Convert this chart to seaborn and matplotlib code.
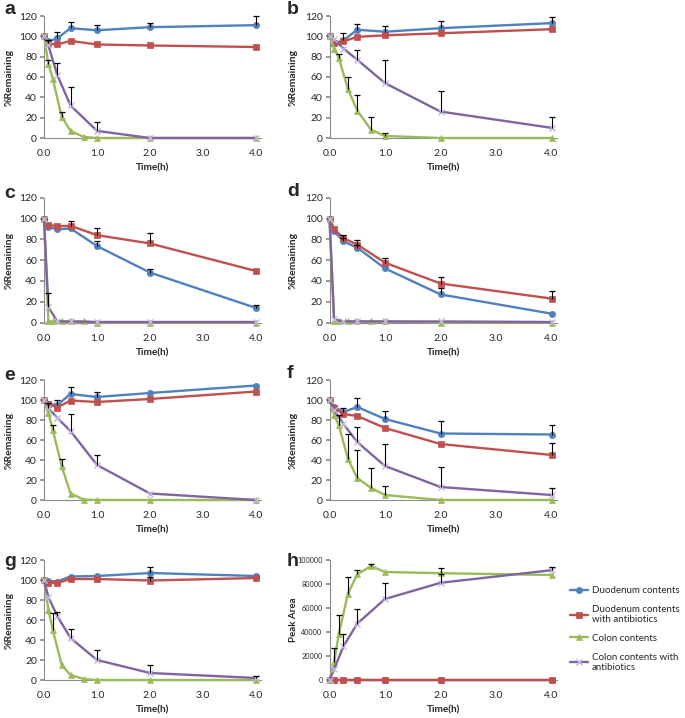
import numpy as np
import pandas as pd
import matplotlib
matplotlib.use("Agg")
import matplotlib.pyplot as plt
from matplotlib.lines import Line2D
import seaborn as sns

# ---------------- data ----------------
series_names = ["Duodenum contents", "Duodenum contents\nwith antibiotics",
                "Colon contents", "Colon contents with\nantibiotics"]
time_main = [0, 0.083, 0.25, 0.5, 1, 2, 4]
time_colon = [0, 0.083, 0.167, 0.333, 0.5, 0.75, 1, 2, 4]
x_ticks = [0.0, 1.0, 2.0, 3.0, 4.0]
x_tick_labels = ["0.0", "1.0", "2.0", "3.0", "4.0"]
y_ticks_pct = [0, 20, 40, 60, 80, 100, 120]
y_ticks_area = [0, 20000, 40000, 60000, 80000, 100000]

a_duo = [100, 95, 98, 108, 106, 109, 111]
a_duo_err = [0, 0, 6, 6, 5, 4, 9]
a_duo_ab = [100, 93, 92, 95.5, 92, 91, 89.5]
a_duo_ab_err = [0, 3, 0, 0, 0, 0, 0]
a_col = [100, 73, 58, 21, 7, 1, 0, 0, 0]
a_col_err = [0, 4, 0, 5, 0, 0, 0, 0, 0]
a_col_ab = [100, 91, 62, 32, 7, 0, 0]
a_col_ab_err = [0, 0, 12, 18, 9, 0, 0]

b_duo = [100, 93, 96, 106.5, 104.5, 108, 113]
b_duo_err = [0, 0, 7, 6, 5.5, 7, 6]
b_duo_ab = [100, 93, 95, 99.5, 101, 103, 107]
b_duo_ab_err = [0, 0, 0, 0, 0, 0, 0]
b_col = [100, 88, 79, 48, 27, 8, 2, 0, 0]
b_col_err = [0, 0, 4, 12, 15, 13, 3, 0, 0]
b_col_ab = [100, 97, 88, 77, 54, 26, 10]
b_col_ab_err = [0, 0, 0, 9.5, 23, 20, 11]

c_duo = [100, 92, 89.5, 90.5, 73.5, 48, 14]
c_duo_err = [0, 0, 0, 0, 5, 3, 3]
c_duo_ab = [100, 94, 92.5, 93, 84, 76, 49.5]
c_duo_ab_err = [0, 0, 0, 5, 7, 10, 0]
c_col = [100, 1, 1, 1, 1, 1, 0, 0, 0]
c_col_err = [0, 0, 0, 0, 0, 0, 0, 0, 0]
c_col_ab = [100, 15, 1, 1, 0.5, 0.5, 0.5]
c_col_ab_err = [0, 13, 0, 0, 0, 0, 0]

d_duo = [100, 88, 78, 72, 52, 27, 8.5]
d_duo_err = [0, 0, 3, 3, 0, 6, 0]
d_duo_ab = [100, 90, 81, 75, 57.5, 37.5, 23]
d_duo_ab_err = [0, 0, 3, 4, 5, 6, 7]
d_col = [100, 1, 1, 1, 1, 1, 1, 0, 0]
d_col_err = [0, 0, 0, 0, 0, 0, 0, 0, 0]
d_col_ab = [100, 3, 1, 1, 1, 1, 0.5]
d_col_ab_err = [0, 0, 0, 0, 0, 0, 0]

e_duo = [100, 96, 95, 106, 103, 107, 114.5]
e_duo_err = [0, 0, 5, 7, 5, 0, 0]
e_duo_ab = [100, 96, 92.5, 99.5, 98, 101, 108.5]
e_duo_ab_err = [0, 0, 0, 0, 0, 0, 0]
e_col = [100, 87, 70, 34, 6.5, 0.5, 0, 0, 0]
e_col_err = [0, 0, 5, 7, 0, 0, 0, 0, 0]
e_col_ab = [100, 92, 82, 69, 35, 6.5, 0]
e_col_ab_err = [0, 5, 0, 17, 10, 0, 0]

f_duo = [100, 93, 88, 93, 81, 66.5, 65.5]
f_duo_err = [0, 0, 4, 9, 8, 13, 10]
f_duo_ab = [100, 92, 86, 84, 72, 56, 45]
f_duo_ab_err = [0, 0, 0, 0, 0, 0, 12]
f_col = [100, 85, 75, 41, 22, 12, 5, 0, 0]
f_col_err = [0, 0, 10, 25, 28, 20, 9, 0, 0]
f_col_ab = [100, 90, 76, 58, 34, 13, 5]
f_col_ab_err = [0, 0, 0, 15, 22, 20, 7]

g_duo = [100, 99, 98.5, 103.5, 104, 107, 104]
g_duo_err = [0, 0, 0, 0, 0, 6, 0]
g_duo_ab = [100, 97, 97, 101, 101, 99.5, 102]
g_duo_ab_err = [0, 0, 0, 0, 0, 4, 0]
g_col = [100, 70, 50, 15, 5, 1, 0, 0, 0]
g_col_err = [0, 0, 17, 0, 0, 0, 0, 0, 0]
g_col_ab = [100, 83, 64, 42, 20, 7, 2]
g_col_ab_err = [0, 0, 4, 9, 10, 8, 2]

h_duo = [0, 0, 0, 0, 0, 0, 0]
h_duo_err = [0, 0, 0, 0, 0, 0, 0]
h_duo_ab = [0, 0, 0, 0, 0, 0, 0]
h_duo_ab_err = [0, 0, 0, 0, 0, 0, 0]
h_col = [0, 15000, 38000, 72000, 88000, 95000, 90000, 89000, 87500]
h_col_err = [0, 12000, 16000, 14000, 3500, 2000, 0, 4000, 0]
h_col_ab = [0, 9000, 28000, 47000, 67500, 81000, 91500]
h_col_ab_err = [0, 0, 10000, 12000, 13000, 7000, 3000]

panels = {
    "a": (a_duo, a_duo_err, a_duo_ab, a_duo_ab_err, a_col, a_col_err, a_col_ab, a_col_ab_err),
    "b": (b_duo, b_duo_err, b_duo_ab, b_duo_ab_err, b_col, b_col_err, b_col_ab, b_col_ab_err),
    "c": (c_duo, c_duo_err, c_duo_ab, c_duo_ab_err, c_col, c_col_err, c_col_ab, c_col_ab_err),
    "d": (d_duo, d_duo_err, d_duo_ab, d_duo_ab_err, d_col, d_col_err, d_col_ab, d_col_ab_err),
    "e": (e_duo, e_duo_err, e_duo_ab, e_duo_ab_err, e_col, e_col_err, e_col_ab, e_col_ab_err),
    "f": (f_duo, f_duo_err, f_duo_ab, f_duo_ab_err, f_col, f_col_err, f_col_ab, f_col_ab_err),
    "g": (g_duo, g_duo_err, g_duo_ab, g_duo_ab_err, g_col, g_col_err, g_col_ab, g_col_ab_err),
    "h": (h_duo, h_duo_err, h_duo_ab, h_duo_ab_err, h_col, h_col_err, h_col_ab, h_col_ab_err),
}

# ---------------- style ----------------
sns.set_theme(style="white")
plt.rcParams["font.family"] = ["Lato", "DejaVu Sans"]

colors = ["#4F81BD", "#C0504D", "#9BBB59", "#8064A2"]
markers = ["o", "s", "^", "x"]
msizes = [4.5, 4.5, 4.8, 5.0]
mecs = ["#4F81BD", "#C0504D", "#9BBB59", "#c4b6de"]
spine_col = "#8c8c8c"

W, H = 685, 718
fig = plt.figure(figsize=(W / 100, H / 100), dpi=100)


def rect(x0, x1, y0, ytop):
    return [x0 / W, 1 - y0 / H, (x1 - x0) / W, (y0 - ytop) / H]


rows = [(138, 16), (322.5, 197.7), (500, 380), (680, 560)]
left_cols = (44, 44 + 53 * 4.1)
right_cols = (329.5, 329.5 + 55.5 * 4.1)
letter_pos = {"a": (4, 10), "b": (287, 10), "c": (4, 193), "d": (287, 191),
              "e": (4, 376), "f": (287, 373), "g": (4, 561), "h": (287, 562)}

order = ["a", "b", "c", "d", "e", "f", "g", "h"]
for i, key in enumerate(order):
    r = i // 2
    cpos = left_cols if i % 2 == 0 else right_cols
    ax = fig.add_axes(rect(cpos[0], cpos[1], rows[r][0], rows[r][1]))
    vals = panels[key]
    for s in range(4):
        t = time_colon if s == 2 else time_main
        v = np.array(vals[2 * s], dtype=float)
        e = np.array(vals[2 * s + 1], dtype=float)
        df = pd.DataFrame({"t": t, "v": v})
        sns.lineplot(data=df, x="t", y="v", ax=ax, color=colors[s], marker=markers[s],
                     markersize=msizes[s], markeredgecolor=mecs[s],
                     markeredgewidth=1.0 if s == 3 else 0.5,
                     linewidth=1.7, legend=False, errorbar=None, clip_on=False,
                     zorder=3 + s * 0.1)
        m = e > 0
        if m.any():
            tt = np.array(t)[m]
            top = v[m] + e[m]
            ax.vlines(tt, v[m], top, colors="black", linewidth=0.8, zorder=5)
            ax.plot(tt, top, linestyle="none", marker="_", markersize=4,
                    markeredgewidth=0.9, color="black", zorder=5, clip_on=False)
    ax.set_xlim(0, 4.1)
    ax.set_xticks(x_ticks)
    ax.set_xticklabels(x_tick_labels)
    if key == "h":
        ax.set_ylim(0, 100000)
        ax.set_yticks(y_ticks_area)
        ax.set_yticklabels([str(v) for v in y_ticks_area])
        ax.set_ylabel("Peak Area", fontsize=7, fontweight="bold")
        ax.tick_params(axis="y", labelsize=5.2)
    else:
        ax.set_ylim(0, 120)
        ax.set_yticks(y_ticks_pct)
        ax.set_ylabel("%Remaining", fontsize=7.5, fontweight="bold")
        ax.tick_params(axis="y", labelsize=7.5)
    ax.set_xlabel("Time(h)", fontsize=7.2, fontweight="bold")
    ax.tick_params(axis="x", labelsize=7.5, length=0, pad=8)
    ax.tick_params(axis="y", length=3, pad=2, color=spine_col, left=True, direction="out")
    ax.xaxis.set_label_coords(0.5, -0.21)
    ax.yaxis.set_label_coords(-0.14, 0.5)
    for sp in ["top", "right"]:
        ax.spines[sp].set_visible(False)
    for sp in ["left", "bottom"]:
        ax.spines[sp].set_color(spine_col)
        ax.spines[sp].set_linewidth(0.8)
    ax.set_facecolor("none")
    lx, ly = letter_pos[key]
    fig.text(lx / W, 1 - ly / H, key, fontsize=14, fontweight="bold",
             family=["Liberation Sans", "DejaVu Sans"], ha="left", va="center")

handles = [Line2D([0], [0], color=colors[s], marker=markers[s], markersize=msizes[s],
                  markeredgecolor=mecs[s], markeredgewidth=1.0 if s == 3 else 0.5,
                  linewidth=1.7) for s in range(4)]
fig.legend(handles, series_names, loc="upper left",
           bbox_to_anchor=(570 / W, 1 - 586 / H), frameon=False, fontsize=7,
           handlelength=1.9, handletextpad=0.35, labelspacing=1.0,
           borderpad=0, borderaxespad=0)

fig.savefig("out.png", dpi=100, facecolor="white")
